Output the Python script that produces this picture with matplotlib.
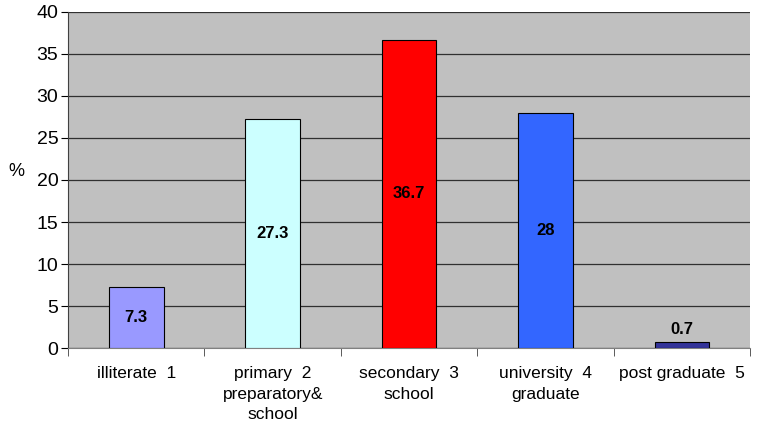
import matplotlib.pyplot as plt
import numpy as np

plt.rcParams['font.family'] = ['Liberation Sans', 'DejaVu Sans']

# education level categories and share (%)
categories = ["illiterate  1", "primary  2\npreparatory&\nschool", "secondary  3\nschool",
              "university  4\ngraduate", "post graduate  5"]
values = [7.3, 27.3, 36.7, 28, 0.7]
value_labels = ["7.3", "27.3", "36.7", "28", "0.7"]
colors = ["#9999FF", "#CCFFFF", "#FF0000", "#3366FF", "#333399"]

fig = plt.figure(figsize=(7.59, 4.24), dpi=100)
ax = fig.add_axes([0.0896, 0.179, 0.899, 0.793])
ax.set_facecolor("#C0C0C0")

x = np.arange(len(values))
ax.bar(x, values, width=0.4, color=colors, edgecolor="black", linewidth=0.8, zorder=3)

# labels in the middle of bars, above the very small one
for xi, v, t in zip(x, values, value_labels):
    if v < 3:
        ax.text(xi, v + 0.6, t, ha="center", va="bottom", fontsize=12, fontweight="bold", zorder=4)
    else:
        ax.text(xi, v / 2, t, ha="center", va="center", fontsize=12, fontweight="bold", zorder=4)

ax.set_xlim(-0.5, 4.5)
ax.set_ylim(0, 40)
ax.set_yticks(range(0, 41, 5))
ax.tick_params(axis="y", labelsize=14, length=5, direction="out", pad=2)
ax.yaxis.grid(True, color="#303030", linewidth=0.9, zorder=1)

ax.set_xticks(x)
ax.set_xticklabels(categories, fontsize=12.5, linespacing=1.45)
ax.tick_params(axis="x", length=0, pad=13)
ax.set_xticks(np.arange(-0.5, 5, 1), minor=True)
ax.tick_params(axis="x", which="minor", length=6, color="#404040")

for s in ["top", "right"]:
    ax.spines[s].set_visible(False)
ax.spines["left"].set_color("#404040")
ax.spines["bottom"].set_color("#808080")

fig.text(0.022, 0.595, "%", fontsize=13, ha="center", va="center")

plt.savefig("out.png", dpi=100)
